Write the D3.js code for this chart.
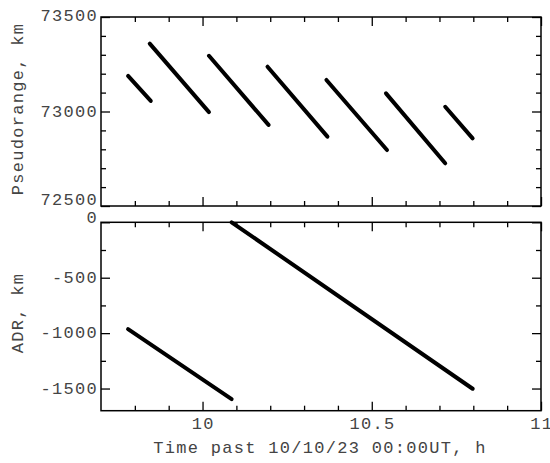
<!DOCTYPE html>
<html>
<head>
<meta charset="utf-8">
<script src="https://cdn.jsdelivr.net/npm/d3@7"></script>
<style>
	body { margin: 0; background: #fff; }
	text { font-family: "Liberation Mono", "DejaVu Sans Mono", monospace; fill: #444; font-size: 17px; letter-spacing: 1.3px; }
</style>
</head>
<body>
<div id="chart"></div>
<script>
// tick values
var xMajor = [10, 10.5, 11];
var xMinor = [9.8, 9.9, 10.1, 10.2, 10.3, 10.4, 10.6, 10.7, 10.8, 10.9];
var prMajor = [72500, 73000, 73500];
var prMinor = [72600, 72700, 72800, 72900, 73100, 73200, 73300, 73400];
var adrMajor = [0, -500, -1000, -1500];
var adrMinor = [-250, -750, -1250];

// pseudorange segments (hours, km)
var prStartT = [9.780, 9.844, 10.019, 10.192, 10.366, 10.542, 10.717];
var prEndT   = [9.847, 10.019, 10.195, 10.369, 10.545, 10.717, 10.798];
var prStartV = [73188, 73359, 73295, 73237, 73167, 73096, 73025];
var prEndV   = [73056, 72997, 72929, 72867, 72796, 72726, 72858];

// ADR segments (hours, km)
var adrStartT = [9.780, 10.086];
var adrEndT   = [10.086, 10.798];
var adrStartV = [-964, 0];
var adrEndV   = [-1595, -1502];

var W = 550, H = 463;
var margin = {left: 101, right: 9};
var width = W - margin.left - margin.right;

var svg = d3.select("#chart").append("svg")
	.attr("width", W)
	.attr("height", H);

var x = d3.scaleLinear().domain([9.7, 11]).range([0, width]);

function drawPanel(top, height, domain, major, minor, starts, ends, sv, ev, label, labelY, edgeDy) {
	var g = svg.append("g").attr("transform", "translate(" + margin.left + "," + top + ")");
	var y = d3.scaleLinear().domain(domain).range([height, 0]);

	// ticks on all four sides, pointing inward
	var axes = [
		[d3.axisLeft(y), "translate(0,0)", major, minor],
		[d3.axisRight(y), "translate(" + width + ",0)", major, minor],
		[d3.axisTop(x), "translate(0,0)", xMajor, xMinor],
		[d3.axisBottom(x), "translate(0," + height + ")", xMajor, xMinor]
	];
	axes.forEach(function(a) {
		var mk = function(vals, size) {
			var ax = a[0].tickValues(vals).tickSize(-size).tickFormat("");
			g.append("g").attr("transform", a[1]).call(ax)
				.call(s => s.select(".domain").remove())
				.selectAll("line").attr("stroke", "#000").attr("stroke-width", 1.3);
		};
		mk(a[2], 9);
		mk(a[3], 5);
	});

	g.append("rect")
		.attr("width", width).attr("height", height)
		.attr("fill", "none").attr("stroke", "#000").attr("stroke-width", 1.5);

	// y tick labels
	g.selectAll(".ylab").data(major).enter().append("text")
		.attr("class", "ylab")
		.attr("x", -3)
		.attr("y", d => y(d) + (edgeDy[d] !== undefined ? edgeDy[d] : 5.3))
		.attr("text-anchor", "end")
		.text(d => d);

	// data segments
	var segs = starts.map((t, i) => [[t, sv[i]], [ends[i], ev[i]]]);
	var line = d3.line().x(d => x(d[0])).y(d => y(d[1]));
	g.selectAll(".seg").data(segs).enter().append("path")
		.attr("class", "seg")
		.attr("d", line)
		.attr("fill", "none")
		.attr("stroke", "#000")
		.attr("stroke-width", 4)
		.attr("stroke-linecap", "round");

	svg.append("text")
		.attr("transform", "translate(23," + labelY + ") rotate(-90)")
		.attr("text-anchor", "middle")
		.text(label);
	return g;
}

drawPanel(17, 189, [72500, 73500], prMajor, prMinor,
	prStartT, prEndT, prStartV, prEndV, "Pseudorange, km", 109, {73500: 3.7, 72500: -1});

var bottom = drawPanel(222.3, 188.4, [-1700, 0], adrMajor, adrMinor,
	adrStartT, adrEndT, adrStartV, adrEndV, "ADR, km", 313, {0: 0.8});

// x tick labels
bottom.selectAll(".xlab").data(xMajor).enter().append("text")
	.attr("x", d => x(d) + 0.7)
	.attr("y", 188.4 + 18)
	.attr("text-anchor", "middle")
	.text(d => d);

svg.append("text")
	.attr("x", 320)
	.attr("y", 453)
	.attr("text-anchor", "middle")
	.text("Time past 10/10/23 00:00UT, h");
</script>
</body>
</html>
